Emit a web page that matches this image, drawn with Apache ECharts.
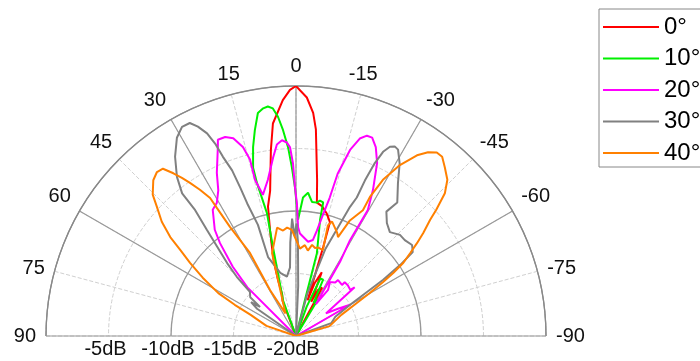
<!DOCTYPE html>
<html><head><meta charset="utf-8">
<script src="https://cdn.jsdelivr.net/npm/echarts@6/dist/echarts.min.js"></script>
<style>html,body{margin:0;padding:0;background:#fff}#c{width:700px;height:361px}</style>
</head><body><div id="c"></div>
<script>
// Legend names (steering angles)
const seriesNames = ['0°', '10°', '20°', '30°', '40°'];
// Radial axis: dB from -20 (centre) to 0 (rim)
const dbMin = -20, dbMax = 0, dbStep = 5;
// Angular axis: -90 .. 90 degrees
const angMin = -90, angMax = 90, angStep = 15;

// Each pattern: [angle (deg), level (dB)]
const beam0 = [[90,-20],[30,-20],[21,-17],[18.4,-16.5],[17.8,-15.3],[16.6,-13.8],[15.1,-12.6],[13.8,-11.3],[12.2,-9.4],[10.1,-8.2],[7.7,-5],[6.2,-2.9],[3.2,-1.1],[1.4,-0.3],[0,0],[-2.6,-0.9],[-4.4,-2.1],[-5.5,-3.4],[-7.7,-7.4],[-8.9,-9.2],[-11.3,-9.4],[-14.1,-9.9],[-16.6,-10.5],[-17,-12.5],[-18,-17],[-19.5,-15.5],[-22,-14.5],[-24,-17],[-25.6,-15.9],[-28.4,-15.6],[-31,-20],[-90,-20]];
const beam10 = [[90,-20],[30,-20],[20,-17],[14.5,-12.6],[13.3,-9.9],[14.3,-7.4],[14.3,-6.1],[12.8,-4.5],[11.3,-3.2],[9.7,-1.9],[8.2,-1.6],[7,-1.5],[5.8,-1.7],[4.7,-2.4],[3.6,-3.5],[2.4,-4.9],[1.4,-6.5],[0.4,-8.1],[-0.4,-9.7],[-1,-10.7],[-2.9,-8.9],[-4.8,-8.5],[-6.8,-9.2],[-8.9,-9.2],[-10,-9],[-11.5,-9.1],[-11.7,-10.5],[-14.2,-13.2],[-14,-17],[-18,-20],[-20,-17.5],[-23,-15],[-25.7,-15],[-28,-17],[-31,-16.6],[-34,-20],[-90,-20]];
const beam20 = [[90,-20],[48,-20],[45,-14.5],[42.4,-12.5],[39.3,-10.4],[37.4,-9.3],[33.4,-7.9],[30.7,-7.6],[28.1,-6.8],[25.9,-5.5],[22.4,-3.6],[21.7,-3.1],[19.6,-3.1],[17.6,-3.4],[15.7,-4.3],[14.6,-5.4],[14.7,-7.1],[13.2,-8.4],[10.2,-7.3],[7.3,-5.6],[5.7,-4.6],[4.1,-4.3],[2.7,-4.5],[1.8,-4.9],[1,-6.2],[0.4,-8.1],[-0.4,-9.4],[-1.1,-11.3],[-2.2,-11.8],[-7.3,-12.4],[-10,-12.2],[-11.2,-11.4],[-12.3,-10.3],[-13.7,-8.6],[-14.4,-6.6],[-16.2,-4.5],[-17.9,-3.4],[-19.5,-3],[-21,-3],[-22.9,-3.6],[-25.1,-4.7],[-27.8,-6.8],[-29.7,-8.4],[-29.4,-11.2],[-30.7,-13.1],[-32,-17],[-34.8,-15.5],[-32.2,-14.9],[-36.3,-14.7],[-36.9,-14.4],[-42,-14.5],[-42.2,-14.2],[-45.6,-14.2],[-49.6,-14.3],[-50.3,-13.9],[-53,-17],[-57,-16],[-60,-15],[-63,-20],[-90,-20]];
const beam30 = [[90,-20],[58,-20],[55,-16.2],[53,-15.5],[51,-16.3],[49.7,-15.2],[46.3,-14.9],[45,-13.3],[43.4,-12],[40,-8.9],[38.7,-7.1],[38.6,-5.4],[36.8,-4.1],[34,-2.7],[31,-1.5],[28.6,-0.95],[26.5,-0.96],[25.1,-1.5],[23.7,-2.3],[22.8,-3.3],[22.2,-4.5],[21.1,-5.8],[20.6,-7.3],[20.2,-8.7],[18.9,-10.6],[19.5,-13.3],[14,-14.8],[8.7,-15.2],[5,-14.5],[3.5,-12.5],[1.9,-10.6],[0.8,-12],[-0.3,-11],[-1.2,-12.5],[-2.5,-16],[-5,-20],[-12,-20],[-15,-16.5],[-18.6,-12.7],[-22.7,-8.8],[-23.7,-7.9],[-23.9,-6.4],[-24.5,-4.8],[-25.3,-3.7],[-26.4,-3.1],[-27.5,-2.9],[-28.7,-3],[-31,-3.9],[-33.7,-5.3],[-37.2,-6.6],[-36,-7.7],[-38.8,-8.4],[-42.1,-8.8],[-45.8,-8.4],[-48.6,-8.4],[-51.9,-8.2],[-54.3,-8.5],[-55.7,-9.9],[-57.2,-11.7],[-60,-15],[-64,-16.5],[-70,-17],[-75,-20],[-90,-20]];
const beam40 = [[90,-20],[80,-20],[71,-17.5],[65,-16],[63,-14.5],[61.1,-12.9],[58,-11.2],[55.4,-9.7],[53.4,-8.5],[51.8,-7.2],[49.6,-5.9],[47.1,-4.8],[45.4,-3.9],[42.5,-3.1],[40.3,-2.8],[38.5,-2.9],[37,-3.7],[35.8,-4.4],[34.7,-5.1],[33.3,-6],[31.9,-7],[31.7,-8],[31.2,-9.8],[29,-12.4],[29.5,-15.8],[25,-18],[16.1,-13.1],[9.9,-11.2],[7,-11.5],[4.7,-11.3],[2.2,-11.5],[0.6,-12.1],[-2.6,-13],[-5.6,-12.7],[-7.9,-13.1],[-10,-12.6],[-12.2,-12.8],[-13.9,-12.7],[-17.4,-12.8],[-16.1,-10.8],[-17.5,-10.4],[-21.7,-11.1],[-23,-11.4],[-25,-9.8],[-28,-8.6],[-28,-7.4],[-29.1,-5.7],[-31.3,-4],[-33.8,-2.6],[-35.7,-1.9],[-37.5,-1.5],[-39.2,-1.5],[-41.4,-2],[-44.1,-2.6],[-46.2,-3.5],[-48,-4.9],[-49.1,-5.8],[-51,-6.9],[-52.5,-7.8],[-54,-8.7],[-55.7,-9.6],[-57,-10.7],[-58.2,-11.8],[-59.8,-13.2],[-61.6,-14.5],[-65,-16],[-73.6,-17.2],[-80,-20],[-90,-20]];
const beams = [beam0, beam10, beam20, beam30, beam40];

const colors = ['#ff0000', '#00f000', '#ff00ff', '#808080', '#ff8000'];
const font = '"Liberation Sans", Arial, sans-serif';
const C = [296, 336], R = 250;
const none = {show: false};

const chart = echarts.init(document.getElementById('c'), null, {renderer: 'canvas'});
const option = {
  animation: false,
  backgroundColor: '#fff',
  legend: {
    orient: 'vertical', left: 599, top: 9, padding: [6, 60, 2, 4],
    icon: 'rect', itemWidth: 56, itemHeight: 2, itemGap: 7.5,
    borderColor: '#888', borderWidth: 1,
    textStyle: {fontSize: 24, fontFamily: font, color: '#000', lineHeight: 24},
    data: seriesNames
  },
  polar: [{center: C, radius: R}, {center: C, radius: R}],
  angleAxis: [
    // dashed grid + angle labels (90 on the left, -90 on the right)
    {polarIndex: 0, type: 'value', min: angMin, max: angMax, interval: angStep,
     startAngle: 0, endAngle: 180, clockwise: false,
     axisLine: {lineStyle: {color: '#888', width: 1.2}},
     axisTick: none,
     axisLabel: {fontSize: 20, color: '#111', fontFamily: font, margin: 10},
     splitLine: {lineStyle: {color: '#d0d0d0', type: 'dashed'}}},
    // solid spokes every 30 degrees
    {polarIndex: 1, type: 'value', min: angMin, max: angMax, interval: angStep * 2,
     startAngle: 180, endAngle: 0, clockwise: true,
     axisLine: none, axisTick: none, axisLabel: none,
     splitLine: {lineStyle: {color: '#999', width: 1.2}}}
  ],
  radiusAxis: [
    {polarIndex: 0, type: 'value', min: dbMin, max: dbMax, interval: dbStep,
     axisLine: none, axisTick: none, axisLabel: none,
     splitLine: {lineStyle: {color: '#d0d0d0', type: 'dashed'}}},
    {polarIndex: 1, type: 'value', min: dbMin, max: dbMax, interval: dbStep,
     axisLine: none, axisTick: none,
     axisLabel: {formatter: '{value}dB', showMaxLabel: false, fontSize: 20, color: '#111', fontFamily: font, margin: 3, padding: [0, 6, 0, 0]},
     splitLine: {lineStyle: {color: ['#999', 'rgba(0,0,0,0)'], width: 1.3}}}
  ],
  series: beams.map((b, i) => ({
    name: seriesNames[i], type: 'line', coordinateSystem: 'polar', polarIndex: 0,
    symbol: 'none', smooth: false, clip: false,
    lineStyle: {color: colors[i], width: 2}, itemStyle: {color: colors[i]},
    data: b.map(p => [p[1], p[0]])
  }))
};
chart.setOption(option);
</script></body></html>
